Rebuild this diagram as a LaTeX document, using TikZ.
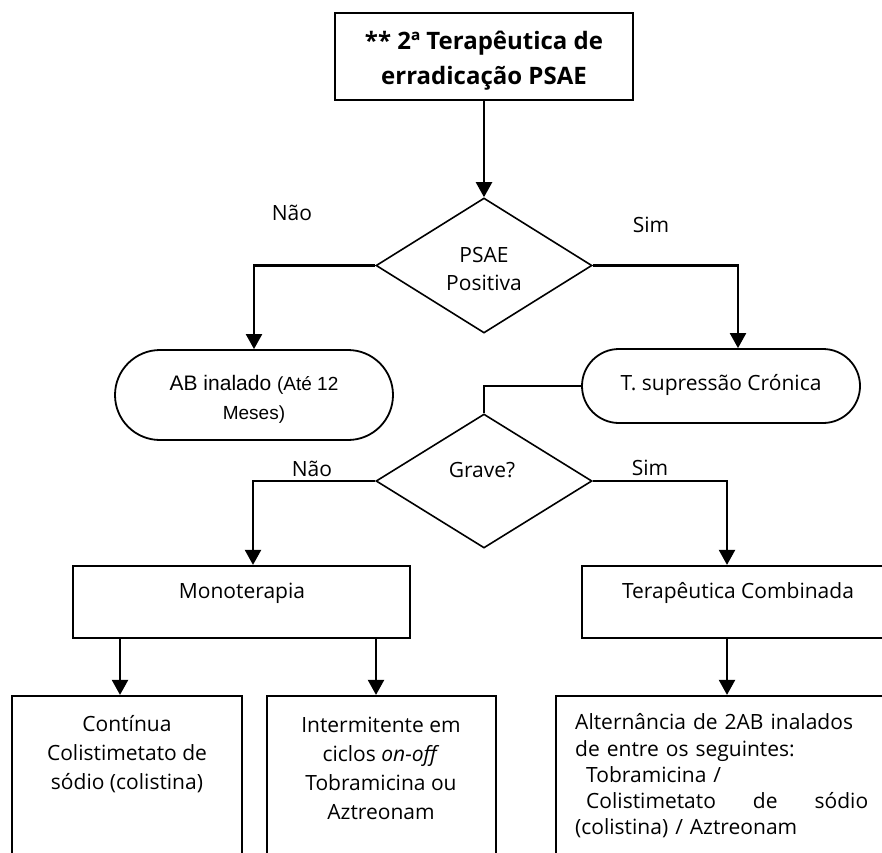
\documentclass[tikz,border=0pt]{standalone}
\usepackage{fontspec}
\setmainfont{Open Sans}
\newfontfamily\arialf{Liberation Sans}
\usetikzlibrary{shapes.geometric,arrows.meta}
\begin{document}
\begin{tikzpicture}[x=1pt,y=-1pt,
  box/.style={draw, line width=2.2pt, inner sep=0pt},
  stadium/.style={draw, line width=1.8pt, inner sep=0pt},
  dia/.style={draw, diamond, line width=1.6pt, inner sep=0pt},
  txt/.style={inner sep=0pt, font=\fontsize{21}{29}\selectfont, align=center},
  link/.style={line width=2pt},
  arr/.style={line width=2.2pt, -{Triangle[width=16pt,length=15pt]}},
]
\useasboundingbox (0,0) rectangle (882,852);
\fill[white] (0,0) rectangle (882,852);
\clip (0,0) rectangle (882,852);

% shapes
\node[box, minimum width=298pt, minimum height=87pt] (top) at (484,56.5) {};
\node[dia, minimum width=216pt, minimum height=135pt] (d1) at (484,265.5) {};
\node[stadium, rounded corners=45pt, minimum width=278pt, minimum height=90pt] (ab) at (254,395) {};
\node[stadium, rounded corners=37pt, minimum width=278pt, minimum height=74pt] (ts) at (721,386) {};
\node[dia, minimum width=216pt, minimum height=134pt] (d2) at (484,481) {};
\node[box, minimum width=337pt, minimum height=72pt] (mono) at (241.5,602) {};
\node[box, minimum width=318pt, minimum height=72pt] (comb) at (741,602) {};
\node[box, minimum width=230pt, minimum height=184pt] (cont) at (127,788) {};
\node[box, minimum width=229pt, minimum height=184pt] (inter) at (381.5,788) {};
\node[box, minimum width=354pt, minimum height=184pt] (alt) at (733,788) {};

% x positions of the vertical connectors
\coordinate (xts) at (738,0);
\coordinate (xmono) at (253,0);
\coordinate (xcomb) at (727,0);
\coordinate (xc1) at (120,0);
\coordinate (xc2) at (376,0);

% connectors
\draw[arr] (top.south) -- (d1.north);
\draw[arr] (d1.west) -| (ab.north);
\draw[arr] (d1.east) -| (ts.north -| xts);
\draw[link] (ts.west) -| (d2.north);
\draw[arr] (d2.west) -| (mono.north -| xmono);
\draw[arr] (d2.east) -| (comb.north -| xcomb);
\draw[arr] (mono.south -| xc1) -- (cont.north -| xc1);
\draw[arr] (mono.south -| xc2) -- (inter.north -| xc2);
\draw[arr] (comb.south -| xcomb) -- (alt.north -| xcomb);

% branch labels
\node[txt] (no1) at (292,213) {Não};
\node[txt] (si1) at (651,225) {Sim};
\node[txt] (no2) at (312,469) {Não};
\node[txt] (si2) at (650,468) {Sim};

% texts
\node[txt, font=\fontsize{24}{35}\selectfont\bfseries] (toptxt) at (484,61) {** 2ª Terapêutica de\\erradicação PSAE};
\node[txt, font=\fontsize{21}{28}\selectfont] (d1t) at (484,269) {PSAE\\Positiva};
\node[txt, font=\arialf\fontsize{21}{29}\selectfont] (abt) at (254,399) {AB inalado {\fontsize{19}{29}\selectfont(Até 12}\\{\fontsize{19}{29}\selectfont Meses)}};
\node[txt] (tst) at (721,385) {T. supressão Crónica};
\node[txt] (grt) at (482,470) {Grave?};
\node[txt] (monot) at (242,593) {Monoterapia};
\node[txt] (combt) at (738,593) {Terapêutica Combinada};
\node[txt] (contt) at (127,754) {Contínua\\Colistimetato de\\sódio (colistina)};
\node[txt] (intert) at (381,768) {Intermitente em\\ciclos \textit{on-off}\\Tobramicina ou\\Aztreonam};
\node[txt, align=left, text width=293pt, anchor=west, font=\fontsize{21}{26.2}\selectfont] (altt) at (575,776)
  {Alternância de 2AB inalados\\
   de entre os seguintes:\\
   \hspace*{11pt}Tobramicina /\\
   \hspace*{11pt}Colistimetato\hfill de\hfill sódio\\
   (colistina) / Aztreonam};
\end{tikzpicture}
\end{document}
